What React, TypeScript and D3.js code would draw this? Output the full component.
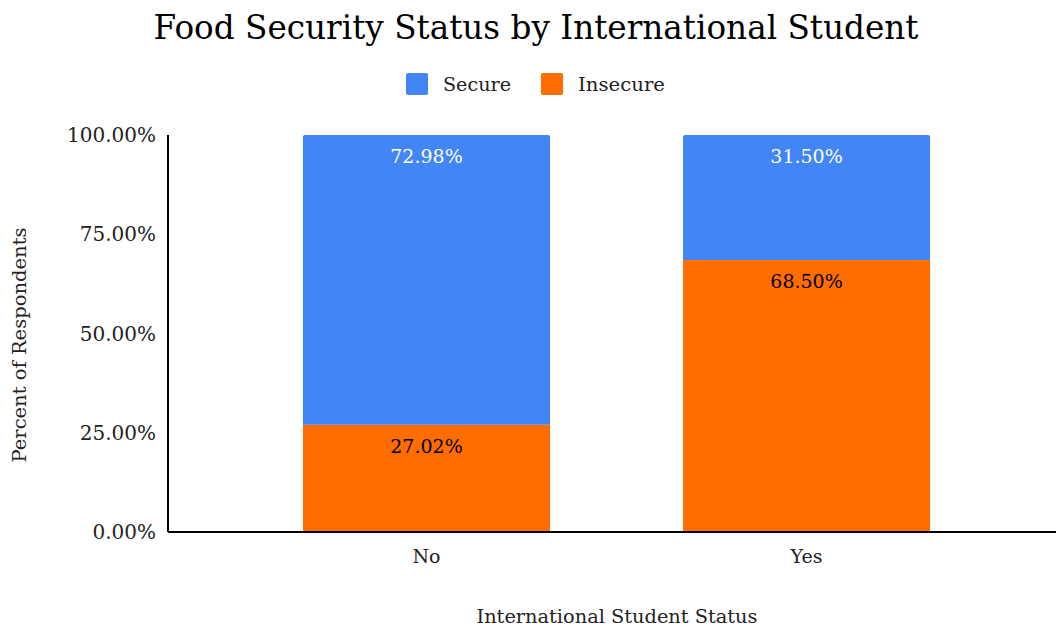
import React from "react";
import * as d3 from "d3";

const categories = ["No", "Yes"];
const insecure = [27.02, 68.5];
const secure = [72.98, 31.5];
const yTicks = [0, 25, 50, 75, 100];
const seriesNames = ["Secure", "Insecure"];
const colors = { Secure: "#4285F4", Insecure: "#FF6D01" };

const W = 1056;
const H = 629;
const FONT = "'DejaVu Serif', 'Liberation Serif', serif";

export default function App() {
  const left = 168;
  const top = 135;
  const bottom = 532;
  const x = d3
    .scaleBand<string>()
    .domain(categories)
    .range([left, 1065])
    .paddingInner(0.35)
    .paddingOuter(0.355);
  const y = d3.scaleLinear().domain([0, 100]).range([bottom, top]);
  const bw = x.bandwidth();
  const r = 2;

  const topRounded = (x0: number, y0: number, w: number, h: number) =>
    `M${x0},${y0 + h}V${y0 + r}Q${x0},${y0} ${x0 + r},${y0}H${x0 + w - r}Q${x0 + w},${y0} ${x0 + w},${y0 + r}V${y0 + h}Z`;

  return (
    <svg width={W} height={H} style={{ position: "absolute", left: 0, top: 0, background: "#fff" }} fontFamily={FONT}>
      <text x={536} y={39} textAnchor="middle" fontSize={33} fill="#000" textLength={765} lengthAdjust="spacingAndGlyphs">
        Food Security Status by International Student
      </text>
      {seriesNames.map((s, i) => {
        const lx = i === 0 ? 406 : 541;
        return (
          <g key={s}>
            <rect x={lx} y={73} width={22} height={22} rx={2} fill={(colors as any)[s]} />
            <text x={lx + 37} y={91} fontSize={19} fill="#222" textLength={i === 0 ? 68 : 87} lengthAdjust="spacingAndGlyphs">
              {s}
            </text>
          </g>
        );
      })}
      {categories.map((c, i) => {
        const x0 = x(c)!;
        const yIns = y(insecure[i]);
        const ySec = y(insecure[i] + secure[i]);
        return (
          <g key={c}>
            <rect x={x0} y={yIns} width={bw} height={bottom - yIns} fill={colors.Insecure} />
            <path d={topRounded(x0, ySec, bw, yIns - ySec)} fill={colors.Secure} />
            <text x={x0 + bw / 2} y={ySec + 28} textAnchor="middle" fontSize={19} fill="#fff">
              {secure[i].toFixed(2)}%
            </text>
            <text x={x0 + bw / 2} y={yIns + 28} textAnchor="middle" fontSize={19} fill="#000">
              {insecure[i].toFixed(2)}%
            </text>
            <text x={x0 + bw / 2} y={bottom + 31} textAnchor="middle" fontSize={19} fill="#222">
              {c}
            </text>
          </g>
        );
      })}
      <line x1={left} x2={W} y1={bottom} y2={bottom} stroke="#000" strokeWidth={2} />
      <line x1={left} x2={left} y1={top} y2={bottom} stroke="#000" strokeWidth={2} />
      {yTicks.map((t) => (
        <text key={t} x={156} y={y(t) + 7} textAnchor="end" fontSize={20} fill="#222">
          {t.toFixed(2)}%
        </text>
      ))}
      <text
        transform={`translate(26,345) rotate(-90)`}
        textAnchor="middle"
        fontSize={18}
        fill="#222"
        textLength={235}
        lengthAdjust="spacingAndGlyphs"
      >
        Percent of Respondents
      </text>
      <text x={617} y={623} textAnchor="middle" fontSize={19} fill="#222" textLength={281} lengthAdjust="spacingAndGlyphs">
        International Student Status
      </text>
    </svg>
  );
}
